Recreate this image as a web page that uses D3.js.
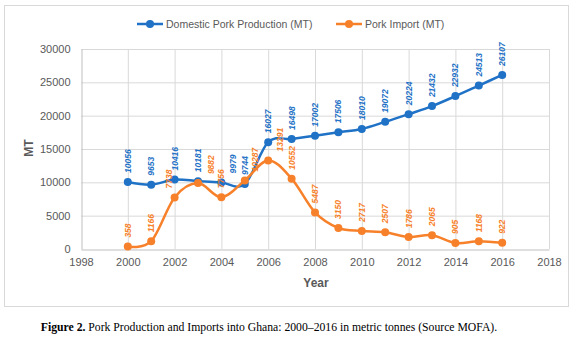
<!DOCTYPE html>
<html>
<head>
<meta charset="utf-8">
<script src="https://cdn.jsdelivr.net/npm/d3@7/dist/d3.min.js"></script>
<style>
  body { margin: 0; background: #fff; }
  svg { display: block; }
  .tick text { font-family: "Liberation Sans", Arial, sans-serif; font-size: 11px; fill: #595959; }
  .grid line { stroke: #d9d9d9; stroke-width: 1; }
</style>
</head>
<body>
<div id="chart"></div>
<script>
// pork production and imports, metric tonnes
const YEARS = [2000, 2001, 2002, 2003, 2004, 2005, 2006, 2007, 2008,
  2009, 2010, 2011, 2012, 2013, 2014, 2015, 2016];
const DOMESTIC = [10056, 9653, 10416, 10181, 9979, 9744, 16027, 16498, 17002,
  17506, 18010, 19072, 20224, 21432, 22932, 24513, 26107];
const IMPORTS = [358, 1166, 7738, 9882, 7756, 10287, 13291, 10552, 5487,
  3150, 2717, 2507, 1786, 2065, 905, 1168, 922];
const X_TICKS = [1998, 2000, 2002, 2004, 2006, 2008, 2010, 2012, 2014, 2016, 2018];
const Y_TICKS = [0, 5000, 10000, 15000, 20000, 25000, 30000];

const BLUE = "#1f72c6";
const ORANGE = "#f7812a";

// a few labels were shifted sideways to avoid overlaps (px, keyed by year)
const NUDGE_DOMESTIC = { 2004: 12 };
const NUDGE_IMPORTS = { 2002: -6, 2003: 13, 2005: 10, 2006: 12 };

const W = 581, H = 342;
const PLOT = { left: 81, right: 549, top: 49, bottom: 249 };

const svg = d3.select("#chart").append("svg")
  .attr("width", W).attr("height", H);

// chart frame
svg.append("rect")
  .attr("x", 4.5).attr("y", 5.5)
  .attr("width", 564).attr("height", 301)
  .attr("fill", "#fff").attr("stroke", "#d9d9d9");

const x = d3.scaleLinear().domain([1998, 2018]).range([PLOT.left, PLOT.right]);
const y = d3.scaleLinear().domain([0, 30000]).range([PLOT.bottom, PLOT.top]);

// gridlines
svg.append("g").attr("class", "grid")
  .selectAll("line.h").data(Y_TICKS.slice(1)).join("line")
  .attr("x1", PLOT.left).attr("x2", PLOT.right)
  .attr("y1", d => y(d) + 0.5).attr("y2", d => y(d) + 0.5);
svg.append("g").attr("class", "grid")
  .selectAll("line.v").data(X_TICKS.slice(1)).join("line")
  .attr("x1", d => x(d) + 0.5).attr("x2", d => x(d) + 0.5)
  .attr("y1", PLOT.top).attr("y2", PLOT.bottom);

// axes
const yAxis = svg.append("g")
  .attr("transform", `translate(${PLOT.left + 0.5},0)`)
  .call(d3.axisLeft(y).tickValues(Y_TICKS).tickSize(0).tickPadding(11).tickFormat(d3.format("d")));
yAxis.select(".domain").attr("stroke", "#bfbfbf");

const xAxis = svg.append("g")
  .attr("transform", `translate(0,${PLOT.bottom + 0.5})`)
  .call(d3.axisBottom(x).tickValues(X_TICKS).tickSize(0).tickPadding(9).tickFormat(d3.format("d")));
xAxis.select(".domain").attr("stroke", "#bfbfbf");

// axis titles
svg.append("text")
  .attr("transform", `translate(33,148) rotate(-90)`)
  .attr("text-anchor", "middle")
  .attr("font-family", "Liberation Sans, Arial, sans-serif")
  .attr("font-size", 12).attr("font-weight", "bold").attr("fill", "#595959")
  .text("MT");
svg.append("text")
  .attr("x", 316).attr("y", 287)
  .attr("text-anchor", "middle")
  .attr("font-family", "Liberation Sans, Arial, sans-serif")
  .attr("font-size", 12).attr("font-weight", "bold").attr("fill", "#595959")
  .text("Year");

const series = [
  { name: "Domestic Pork Production (MT)", values: DOMESTIC, color: BLUE, nudge: NUDGE_DOMESTIC },
  { name: "Pork Import (MT)", values: IMPORTS, color: ORANGE, nudge: NUDGE_IMPORTS },
];

const line = d3.line()
  .x(d => x(d.year))
  .y(d => y(d.value))
  .curve(d3.curveCardinal.tension(0));

series.forEach(s => {
  const pts = YEARS.map((year, i) => ({ year, value: s.values[i] }));
  const g = svg.append("g");

  g.append("path")
    .datum(pts)
    .attr("d", line)
    .attr("fill", "none")
    .attr("stroke", s.color)
    .attr("stroke-width", 2.5);

  g.selectAll("circle").data(pts).join("circle")
    .attr("cx", d => x(d.year))
    .attr("cy", d => y(d.value))
    .attr("r", 4)
    .attr("fill", s.color);

  // rotated value labels above each point
  g.selectAll("text").data(pts).join("text")
    .attr("transform", d =>
      `translate(${x(d.year) + (s.nudge[d.year] || 0)},${y(d.value) - 9}) rotate(-90)`)
    .attr("dy", "0.35em")
    .attr("text-anchor", "start")
    .attr("font-family", "Liberation Sans, Arial, sans-serif")
    .attr("font-size", 8.5)
    .attr("font-style", "italic")
    .attr("font-weight", "bold")
    .attr("fill", s.color)
    .text(d => d.value);
});

// legend
const legendItems = [
  { name: series[0].name, color: BLUE, x0: 137 },
  { name: series[1].name, color: ORANGE, x0: 336 },
];
const lg = svg.append("g").selectAll("g").data(legendItems).join("g")
  .attr("transform", d => `translate(${d.x0},24)`);
lg.append("line")
  .attr("x1", 0).attr("x2", 26)
  .attr("stroke", d => d.color).attr("stroke-width", 2.5);
lg.append("circle")
  .attr("cx", 13).attr("r", 4).attr("fill", d => d.color);
lg.append("text")
  .attr("x", 29).attr("dy", "0.35em")
  .attr("font-family", "Liberation Sans, Arial, sans-serif")
  .attr("font-size", 10.5).attr("fill", "#595959")
  .text(d => d.name);

// caption
const cap = svg.append("text")
  .attr("x", 269).attr("y", 331)
  .attr("text-anchor", "middle")
  .attr("font-family", "Liberation Serif, Times New Roman, serif")
  .attr("font-size", 11.7).attr("fill", "#000");
cap.append("tspan").attr("font-weight", "bold").text("Figure 2.");
cap.append("tspan").text(" Pork Production and Imports into Ghana: 2000\u20132016 in metric tonnes (Source MOFA).");
</script>
</body>
</html>
